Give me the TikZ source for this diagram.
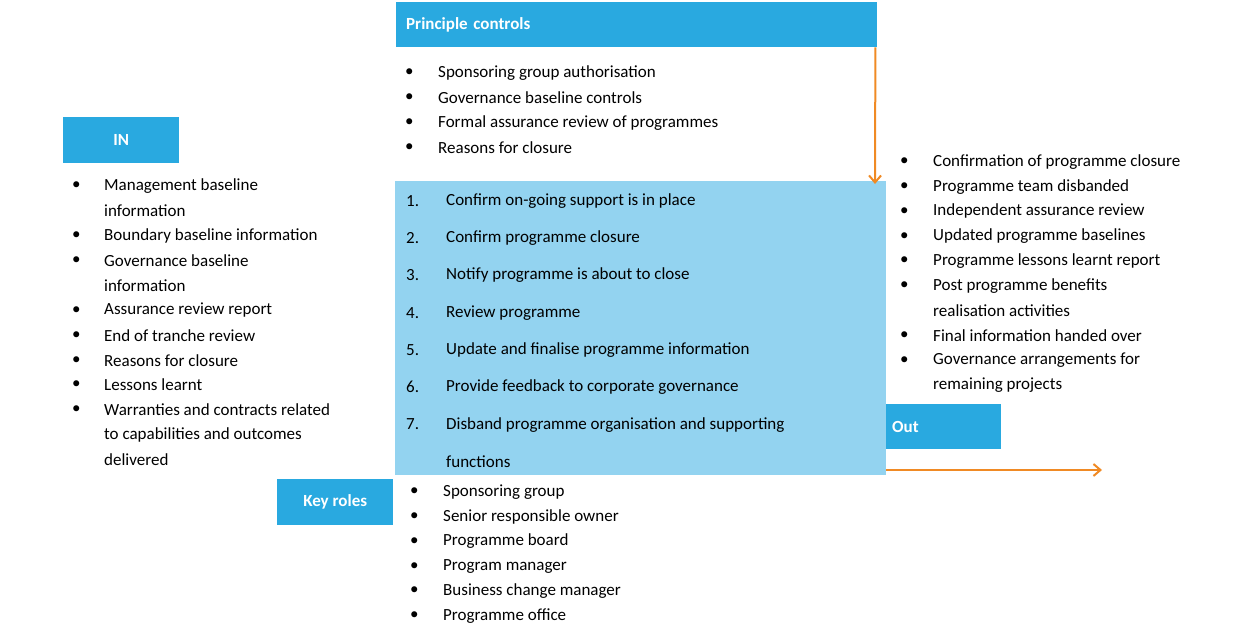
\documentclass[tikz,border=0pt]{standalone}
\usepackage{fontspec}
\setmainfont{Carlito}
\usetikzlibrary{positioning,arrows.meta}
\definecolor{hdrblue}{HTML}{29A9E0}
\definecolor{boxblue}{HTML}{93D3F0}
\definecolor{arrorange}{HTML}{F08A24}
\tikzset{
    hdr/.style={fill=hdrblue, text=white, font=\bfseries\fontsize{17}{20}\selectfont, inner sep=0pt},
    itm/.style={anchor=west, inner sep=0pt, font=\fontsize{17}{20}\selectfont},
    orarrow/.style={draw=arrorange, line width=2pt, -{Straight Barb[length=7pt,width=12pt]}}
}
\begin{document}
\begin{tikzpicture}[x=1pt, y=-1pt]
    \useasboundingbox (0,0) rectangle (1245,627);
    % headers and main box
    \fill[boxblue] (395,181) rectangle (886,475);
    \node[hdr, minimum width=481pt, minimum height=45pt, anchor=north west, text width=461pt] (pc) at (396,2) {Principle controls};
    \node[hdr, minimum width=116pt, minimum height=46pt, anchor=north west] (in) at (63,117) {IN};
    \node[hdr, minimum width=115pt, minimum height=45pt, anchor=north west, text width=103pt] (out) at (886,404) {Out};
    \node[hdr, minimum width=116pt, minimum height=46pt, anchor=north west] (kr) at (277,479) {Key roles};
    % principle controls
    \foreach[count=\i] \t in {Sponsoring group authorisation, Governance baseline controls,
        Formal assurance review of programmes, Reasons for closure} {
        \node[itm] (pc-b-\i) at (405,48+25*\i) {•};
        \node[itm] (pc-\i) at (438,48+25*\i) {\t};
    }
    % steps
    \foreach[count=\i] \b/\t in {1/{Confirm on-going support is in place}, 2/{Confirm programme closure},
        3/{Notify programme is about to close}, 4/{Review programme},
        5/{Update and finalise programme information}, 6/{Provide feedback to corporate governance},
        7/{Disband programme organisation and supporting}, 0/{functions}} {
        \ifnum\b>0 \node[itm] (st-n-\i) at (406,163.5+37.3*\i) {\b.};\fi
        \node[itm] (st-\i) at (446,163.5+37.3*\i) {\t};
    }
    % inputs
    \foreach[count=\i] \b/\t in {1/{Management baseline}, 0/{information}, 1/{Boundary baseline information},
        1/{Governance baseline}, 0/{information}, 1/{Assurance review report}, 1/{End of tranche review},
        1/{Reasons for closure}, 1/{Lessons learnt}, 1/{Warranties and contracts related},
        0/{to capabilities and outcomes}, 0/{delivered}} {
        \ifnum\b>0 \node[itm] (in-b-\i) at (72,161+24.9*\i) {•};\fi
        \node[itm] (in-\i) at (104,161+24.9*\i) {\t};
    }
    % outputs
    \foreach[count=\i] \b/\t in {1/{Confirmation of programme closure}, 1/{Programme team disbanded},
        1/{Independent assurance review}, 1/{Updated programme baselines},
        1/{Programme lessons learnt report}, 1/{Post programme benefits}, 0/{realisation activities},
        1/{Final information handed over}, 1/{Governance arrangements for}, 0/{remaining projects}} {
        \ifnum\b>0 \node[itm] (out-b-\i) at (900,137+24.8*\i) {•};\fi
        \node[itm] (out-\i) at (933,137+24.8*\i) {\t};
    }
    % key roles
    \foreach[count=\i] \t in {Sponsoring group, Senior responsible owner, Programme board,
        Program manager, Business change manager, Programme office} {
        \node[itm] (kr-b-\i) at (410,467+24.8*\i) {•};
        \node[itm] (kr-\i) at (443,467+24.8*\i) {\t};
    }
    % arrows
    \coordinate (pc-end) at (875,184);
    \coordinate (out-start) at (886,470);
    \coordinate (out-end) at (1102,470);
    \draw[orarrow] (pc.south east) ++(-2,0) coordinate (pc-start) -- (pc-end);
    \draw[orarrow] (out-start) -- (out-end);
\end{tikzpicture}
\end{document}
